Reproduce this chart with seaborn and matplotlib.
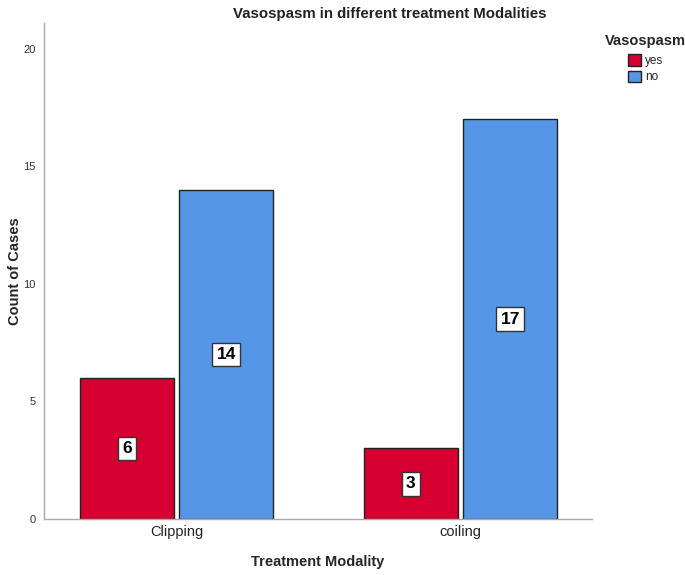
import numpy as np
import pandas as pd
import matplotlib.pyplot as plt
import seaborn as sns
from matplotlib.patches import Patch

modality = ["Clipping", "Clipping", "coiling", "coiling"]
vasospasm = ["yes", "no", "yes", "no"]
counts = [6, 14, 3, 17]

df = pd.DataFrame({"Treatment Modality": modality, "Vasospasm": vasospasm, "Count": counts})

sns.set_style("white")
plt.rcParams['font.family'] = ['Liberation Sans', 'DejaVu Sans']

colors = {"yes": "#D5002F", "no": "#5596E6"}

fig = plt.figure(figsize=(6.85, 5.75), dpi=100)
ax = fig.add_axes([0.0642, 0.0974, 0.8, 0.8626])

sns.barplot(data=df, x="Treatment Modality", y="Count", hue="Vasospasm",
            hue_order=["yes", "no"], palette=colors, width=0.7, gap=0.055,
            saturation=1, edgecolor="#222222", linewidth=1, legend=False, ax=ax)

# value labels in white boxes at mid height
for cont in ax.containers:
    for bar in cont:
        h = bar.get_height()
        ax.text(bar.get_x() + bar.get_width() / 2, h / 2, f"{int(h)}",
                ha="center", va="center", fontsize=12.5, fontweight="bold",
                color="black",
                bbox=dict(boxstyle="square,pad=0.25", fc="white", ec="#333333", lw=1))

ax.set_xlim(-0.467, 1.463)
ax.set_ylim(0, 21.1)
ax.set_yticks([0, 5, 10, 15, 20])
ax.tick_params(axis="y", labelsize=8, colors="#333333", length=0, pad=6)
ax.tick_params(axis="x", labelsize=10.5, colors="#222222", length=0, pad=4)
for s in ["top", "right"]:
    ax.spines[s].set_visible(False)
for s in ["left", "bottom"]:
    ax.spines[s].set_color("#aaaaaa")
    ax.spines[s].set_linewidth(1)

ax.set_xlabel("Treatment Modality", fontsize=10.5, fontweight="bold", labelpad=12)
ax.set_ylabel("Count of Cases", fontsize=10.5, fontweight="bold")
ax.yaxis.set_label_coords(-0.04, 0.5)

fig.text(0.569, 0.988, "Vasospasm in different treatment Modalities",
         ha="center", va="top", fontsize=10.8, fontweight="bold", color="#222222")

handles = [Patch(facecolor=colors[k], edgecolor="#222222", label=k) for k in ["yes", "no"]]
leg = fig.legend(handles=handles, title="Vasospasm", loc="upper left",
                 bbox_to_anchor=(0.875, 0.952), frameon=False, fontsize=8.5,
                 title_fontproperties={"weight": "bold", "size": 10.5},
                 handlelength=1.1, handleheight=1.1, handletextpad=0.3,
                 labelspacing=0.3, borderpad=0)
leg._legend_box.align = "center"
leg._legend_box.sep = 5

fig.savefig("out.png", dpi=100)
